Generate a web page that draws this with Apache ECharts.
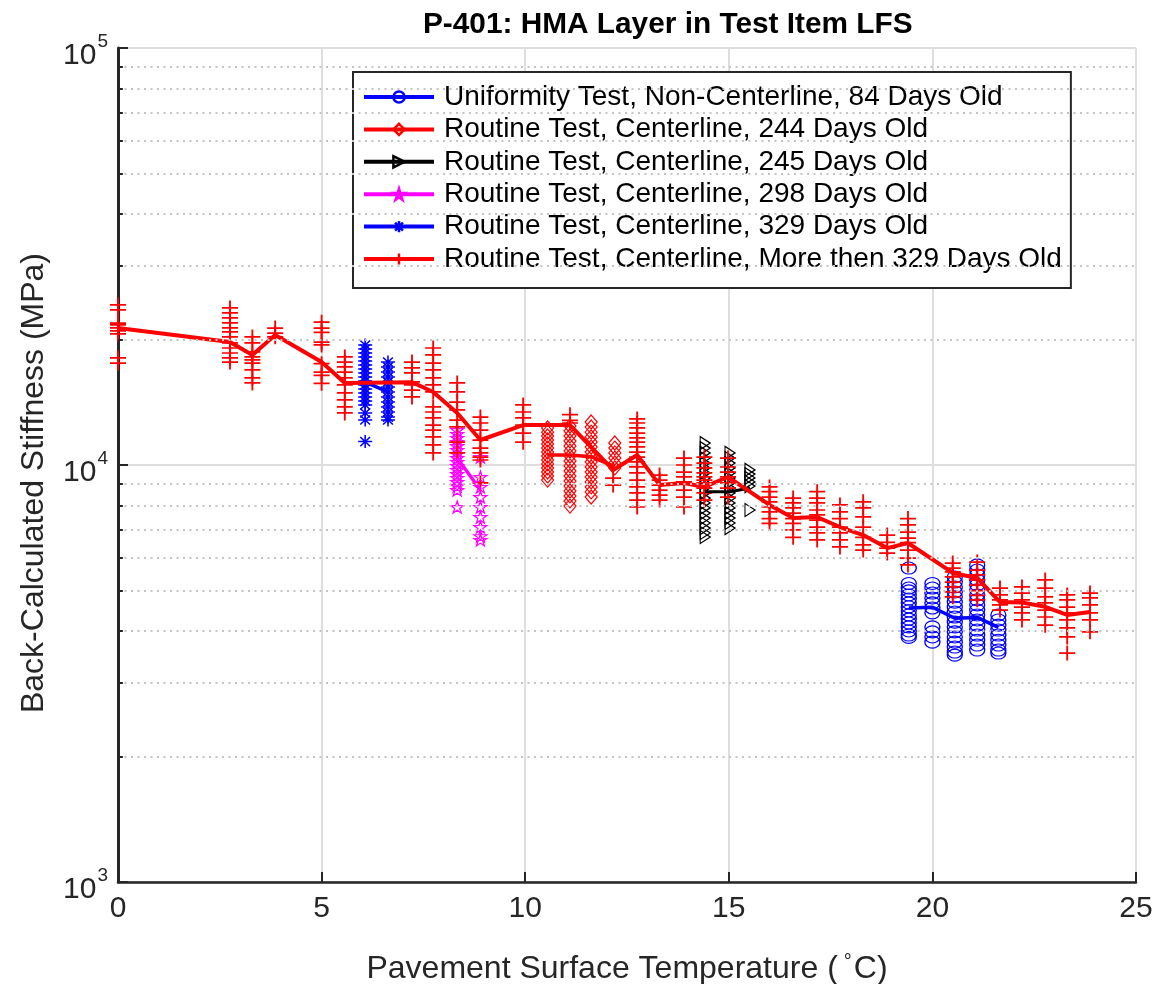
<!DOCTYPE html>
<html>
<head>
<meta charset="utf-8">
<title>P-401: HMA Layer in Test Item LFS</title>
<script src="https://cdn.jsdelivr.net/npm/echarts@6.0.0/dist/echarts.min.js"></script>
<style>
  html, body { margin: 0; padding: 0; background: #fff; }
  #main { width: 1156px; height: 984px; }
</style>
</head>
<body>
<div id="main"></div>
<script>
// ---- data (temperature in C, back-calculated stiffness in MPa) ----
const seriesNames = [
  'Uniformity Test, Non-Centerline, 84 Days Old',
  'Routine Test, Centerline, 244 Days Old',
  'Routine Test, Centerline, 245 Days Old',
  'Routine Test, Centerline, 298 Days Old',
  'Routine Test, Centerline, 329 Days Old',
  'Routine Test, Centerline, More then 329 Days Old'
];

// 84 days, uniformity
const uniTemps = [19.42, 20.0, 20.55, 21.1, 21.62];
const uniValues = [
  [5660, 5200, 5070, 4990, 4880, 4770, 4670, 4570, 4470, 4370, 4270, 4180, 4090, 4000, 3910, 3860],
  [5200, 5070, 4930, 4800, 4670, 4540, 4420, 4090, 3980, 3870, 3760],
  [5390, 5240, 5100, 4960, 4830, 4690, 4560, 4440, 4320, 4200, 4090, 3980, 3870, 3760, 3660, 3560, 3500],
  [5760, 5600, 5450, 5300, 5160, 5020, 4880, 4750, 4620, 4490, 4370, 4250, 4130, 4020, 3910, 3800, 3700, 3600],
  [4370, 4250, 4130, 4020, 3910, 3800, 3700, 3600, 3540]
];
const uniMeans = [4540, 4560, 4290, 4310, 4080];

// 244 days
const d244Temps = [10.55, 11.1, 11.62, 12.2];
const d244Values = [
  [12270, 11990, 11740, 11480, 11230, 10980, 10740, 10510, 10280, 10060, 9840, 9620, 9410, 9200],
  [12400, 12060, 11740, 11420, 11110, 10800, 10510, 10220, 9950, 9670, 9410, 9150, 8900, 8660, 8430, 8200, 7970],
  [12680, 12340, 11990, 11670, 11350, 11040, 10740, 10450, 10170, 9890, 9620, 9360, 9110, 8860, 8620, 8380],
  [11290, 10980, 10690, 10390, 10110, 9840]
];
const d244Means = [10570, 10570, 10470, 9910];

// 245 days
const d245Temps = [14.42, 15.03, 15.52];
const d245Values = [
  [11290, 10980, 10690, 10390, 10110, 9840, 9570, 9310, 9060, 8810, 8570, 8330, 8110, 7890, 7670, 7460, 7260, 7060, 6870, 6720],
  [10690, 10390, 10110, 9840, 9570, 9310, 9060, 8810, 8570, 8330, 8110, 7890, 7670, 7460, 7260, 7060],
  [9730, 9510, 9310, 9110, 8900, 7800]
];
const d245Means = [8630, 8630, 8810];

// 298 days
const d298Temps = [8.33, 8.9];
const d298Values = [
  [12130, 11870, 11610, 11350, 11100, 10860, 10630, 10390, 10170, 9950, 9730, 9510, 9310, 9110, 8900, 8710, 7930],
  [10450, 9360, 8860, 8380, 7930, 7500, 7100, 6750, 6610]
];
const d298Means = [10390, 8710];

// 329 days
const d329Temps = [6.07, 6.63];
const d329Values = [
  [19400, 18980, 18570, 18160, 17760, 17370, 16990, 16620, 16260, 15900, 15560, 15220, 14890, 14560, 14240, 13930, 13330, 12820, 11380],
  [17660, 17180, 16710, 16260, 15820, 15390, 14970, 14560, 14160, 13780, 13400, 13030, 12820]
];
const d329Means = [15800, 14970];

// more than 329 days
const oldTemps = [0, 2.75, 3.3, 3.86, 5.0, 5.57, 7.22, 7.74, 8.33, 8.9, 9.95, 11.1, 12.16, 12.75, 13.3, 13.9,
  14.4, 14.98, 16.0, 16.58, 17.17, 17.73, 18.3, 18.89, 19.4, 20.5, 21.1, 21.66, 22.2, 22.77, 23.31, 23.87];
const oldValues = [
  [24200, 23540, 21900, 21670, 21320, 20960, 20620, 18060, 17560],
  [23800, 23150, 22520, 21910, 21310, 20850, 20280, 19620, 19080, 18560, 18060, 17660],
  [20280, 19620, 18670, 18160, 17860, 17560, 16900, 16170, 15730],
  [21300, 20700, 20300],
  [22000, 21300, 20800, 19700, 19400, 17500, 16700, 16400, 15700],
  [18160, 17660, 17180, 16710, 16170, 15560, 14900, 14320, 13780, 13330],
  [17660, 17090, 16630, 15820, 15560, 15130, 14560],
  [19080, 18360, 17560, 16900, 16170, 15560, 14970, 13780, 13400, 12970, 12470, 12130, 11680, 11170, 10690],
  [15730, 14970, 14160, 13550, 12820, 12350, 11340, 10690],
  [13030, 12610, 12130, 11480, 10980, 10690, 10450, 10280, 9060],
  [13930, 13400, 12970, 12470, 11930, 11340],
  [13200, 12800, 12610],
  [9300, 8950],
  [12900, 12610, 12270, 11930, 11610, 11340, 11050, 10740, 10450, 10170, 9900, 9570, 9200, 8860, 8570, 8240, 7930],
  [9460, 9200, 8950, 8710, 8470, 8240],
  [10390, 10000, 9620, 9360, 9110, 8710, 8380, 7930],
  [10450, 10110, 9840, 9570, 9360, 9200, 9060, 8800, 8570, 8240],
  [10390, 9890, 9620, 9360, 9060, 8800, 8380],
  [8860, 8630, 8380, 8160, 7930, 7720, 7440, 7240],
  [8330, 8110, 7890, 7670, 7440, 7240, 6990, 6710],
  [8630, 8330, 8110, 7800, 7590, 7380, 7100, 6870, 6610],
  [8020, 7720, 7440, 7100, 6870, 6610, 6360],
  [8160, 7890, 7510, 7100, 6710, 6430, 6250],
  [6790, 6520, 6320, 6150],
  [7440, 7180, 6900, 6680, 6510, 6250, 5980, 5760],
  [5820, 5660, 5540, 5390, 5240, 5100, 4960, 4830],
  [5850, 5600, 5450, 5300, 5150, 5000, 4870, 4750],
  [5070, 4880, 4750, 4620, 4490],
  [5100, 4930, 4750, 4560, 4420, 4250],
  [5300, 5070, 4830, 4670, 4490, 4320, 4130],
  [4880, 4750, 4560, 4420, 4250, 4070, 3870, 3540],
  [4930, 4800, 4620, 4420, 4250, 3980]
];
const oldMeans = [21300, 19720, 18360, 20500, 17660, 15730, 15800, 14960, 13330, 11480, 12470, 12470, 9730, 10570,
  8960, 9050, 8860, 9360, 8020, 7460, 7500, 7100, 6790, 6320, 6500, 5510, 5360, 4690, 4680, 4570, 4370, 4440];

// axis ticks
const xTicks = [0, 5, 10, 15, 20, 25];
const yMinorTicks = [2000, 3000, 4000, 5000, 6000, 7000, 8000, 9000,
  20000, 30000, 40000, 50000, 60000, 70000, 80000, 90000];

// ---- styling ----
const FONT = '"Liberation Sans", Arial, Helvetica, sans-serif';
const AX = '#262626';
const TRI_RIGHT = 'path://M0,0L10,5L0,10Z';
const PENTAGRAM = 'path://M5,0L6.123,3.455L9.755,3.455L6.816,5.59L7.939,9.045L5,6.91L2.061,9.045L3.184,5.59L0.245,3.455L3.877,3.455Z';
const ASTERISK = 'path://M5,0L5,10M0,5L10,5M1.5,1.5L8.5,8.5M8.5,1.5L1.5,8.5';
const PLUS = 'path://M5,0L5,10M0,5L10,5';

const groups = [
  { temps: uniTemps, values: uniValues, means: uniMeans, color: '#0000ff', symbol: 'circle', size: [15, 12], bw: 1.2, lw: 3.5 },
  { temps: d244Temps, values: d244Values, means: d244Means, color: '#ff0000', symbol: 'diamond', size: [12, 14], bw: 1.2, lw: 3.5 },
  { temps: d245Temps, values: d245Values, means: d245Means, color: '#000000', symbol: TRI_RIGHT, size: [10, 13], bw: 1.2, lw: 3 },
  { temps: d298Temps, values: d298Values, means: d298Means, color: '#ff00ff', symbol: PENTAGRAM, size: [13, 12], bw: 1.2, lw: 3.5 },
  { temps: d329Temps, values: d329Values, means: d329Means, color: '#0000ff', symbol: ASTERISK, size: [14, 13], bw: 1.5, lw: 3.5 },
  { temps: oldTemps, values: oldValues, means: oldMeans, color: '#ff0000', symbol: PLUS, size: [16, 15], bw: 1.8, lw: 4 }
];

function toPoints(temps, cols) {
  const pts = [];
  temps.forEach((t, i) => cols[i].forEach((v) => pts.push([t, v])));
  return pts;
}

const series = [];

// dotted minor grid + minor ticks on the left axis
series.push({
  type: 'line',
  data: [],
  z: 1,
  silent: true,
  markLine: {
    silent: true,
    symbol: 'none',
    animation: false,
    label: { show: false },
    emphasis: { disabled: true },
    lineStyle: { color: '#c4c4c4', width: 2, type: [2, 4.5] },
    data: yMinorTicks.map((v) => ({ yAxis: v })).concat(
      yMinorTicks.map((v) => [
        { coord: [0, v], lineStyle: { color: AX, width: 2, type: 'solid' } },
        { coord: [0.12, v] }
      ])
    )
  }
});

groups.forEach((g, i) => {
  // mean line first so the legend icon shows line + marker
  series.push({
    name: seriesNames[i],
    type: 'line',
    z: 4,
    data: g.temps.map((t, k) => [t, g.means[k]]),
    symbol: g.symbol,
    symbolSize: g.size,
    showSymbol: false,
    lineStyle: { color: g.color, width: g.lw },
    itemStyle: { color: g.color, borderColor: g.color, borderWidth: 2 },
    emphasis: { disabled: true },
    silent: true
  });
  series.push({
    name: seriesNames[i],
    type: 'scatter',
    z: 3,
    data: toPoints(g.temps, g.values),
    symbol: g.symbol,
    symbolSize: g.size,
    itemStyle: { color: 'rgba(255,255,255,0)', borderColor: g.color, borderWidth: g.bw, opacity: 1 },
    emphasis: { disabled: true },
    silent: true
  });
});

const chart = echarts.init(document.getElementById('main'));
chart.setOption({
  animation: false,
  backgroundColor: '#fff',
  title: {
    text: 'P-401: HMA Layer in Test Item LFS',
    left: 418,
    top: 5,
    textStyle: { fontFamily: FONT, fontSize: 29.8, fontWeight: 'bold', color: '#000' }
  },
  grid: { left: 118, right: 20, top: 48, bottom: 102, containLabel: false, outerBoundsMode: 'none' },
  legend: {
    orient: 'vertical',
    left: 353,
    top: 72,
    padding: [11, 9, 15, 9],
    itemGap: 4.4,
    itemWidth: 70,
    itemHeight: 14,
    selectedMode: false,
    backgroundColor: '#fff',
    borderColor: AX,
    borderWidth: 2,
    borderRadius: 0,
    textStyle: { fontFamily: FONT, fontSize: 28, color: '#000', padding: [0, 0, 0, 5] },
    data: groups.map((g, i) => ({
      name: seriesNames[i],
      itemStyle: { color: 'rgba(255,255,255,0)', borderColor: g.color, borderWidth: 2.5 },
      lineStyle: { color: g.color, width: 4 }
    }))
  },
  xAxis: {
    type: 'value',
    min: xTicks[0],
    max: xTicks[xTicks.length - 1],
    interval: 5,
    name: '{n|Pavement Surface Temperature (}{d|°}{n|C)}',
    nameLocation: 'middle',
    nameGap: 70,
    nameTextStyle: {
      rich: {
        n: { fontFamily: FONT, fontSize: 32, color: AX },
        d: { fontFamily: FONT, fontSize: 20, color: AX, padding: [0, 2, 14, 6] }
      }
    },
    axisLine: { show: true, onZero: false, lineStyle: { color: AX, width: 2.5 } },
    axisTick: { inside: true, length: 10, lineStyle: { color: AX, width: 2 } },
    axisLabel: { fontFamily: FONT, fontSize: 30, color: AX, margin: 12 },
    splitLine: { show: true, lineStyle: { color: '#dedede', width: 2 } }
  },
  yAxis: {
    type: 'log',
    logBase: 10,
    min: 1000,
    max: 100000,
    name: 'Back-Calculated Stiffness (MPa)',
    nameLocation: 'middle',
    nameGap: 68,
    nameTextStyle: { fontFamily: FONT, fontSize: 32, color: AX, padding: [0, 36, 0, 0] },
    axisLine: { show: true, onZero: false, lineStyle: { color: AX, width: 3 } },
    axisTick: { inside: true, length: 10, lineStyle: { color: AX, width: 2 } },
    axisLabel: {
      margin: 10,
      formatter: (v) => '{b|10}{s|' + Math.round(Math.log10(v)) + '}',
      rich: {
        b: { fontFamily: FONT, fontSize: 30, color: AX, padding: [16, 0, 0, 0] },
        s: { fontFamily: FONT, fontSize: 19, color: AX, padding: [0, 0, 12, 1] }
      }
    },
    splitLine: { show: true, lineStyle: { color: '#dedede', width: 2 } }
  },
  series: series
});
</script>
</body>
</html>
